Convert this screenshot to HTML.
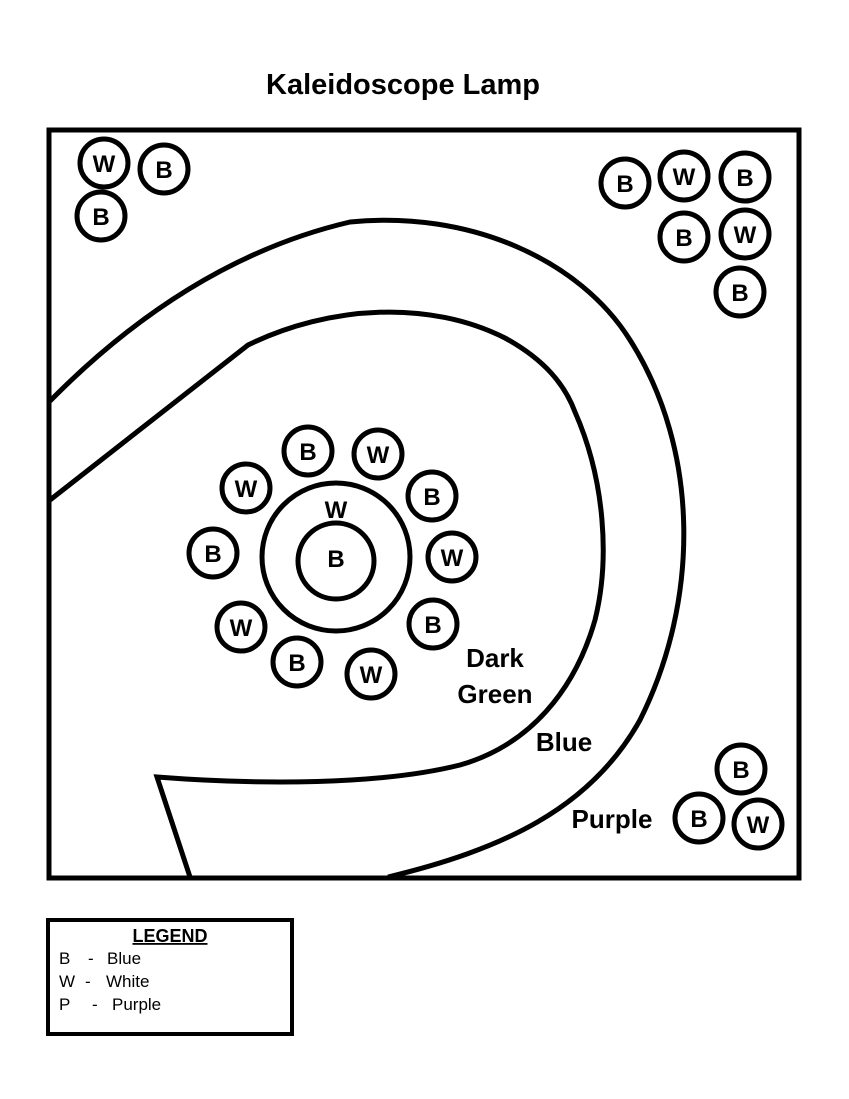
<!DOCTYPE html>
<html><head><style>
html,body{margin:0;padding:0;background:#fff;}
svg{display:block;}
text{font-family:"Liberation Sans",sans-serif;}
.c{fill:#fff;stroke:#000;stroke-width:5;}
.l{font-weight:bold;font-size:24px;text-anchor:middle;}
.lab{font-weight:bold;font-size:26px;text-anchor:middle;}
</style></head><body>
<svg width="849" height="1099" viewBox="0 0 849 1099" xmlns="http://www.w3.org/2000/svg">
<text x="403" y="94" font-size="29" font-weight="bold" text-anchor="middle">Kaleidoscope Lamp</text>
<rect x="49" y="130" width="750" height="748" fill="none" stroke="#000" stroke-width="5"/>
<path d="M50,401 C130,320 230,250 350,222 C470,210 580,260 630,340 C700,450 700,600 640,720 C590,810 500,850 388,877" fill="none" stroke="#000" stroke-width="5"/>
<path d="M50,500 L248,345 C330,305 430,300 505,338 C545,360 565,385 575,412 C605,480 610,560 595,620 C575,690 530,745 460,765 C380,785 260,785 157,777 L190,877" fill="none" stroke="#000" stroke-width="5"/>
<circle class="c" cx="336" cy="557" r="74"/>
<circle class="c" cx="336" cy="561" r="38"/>
<text class="l" x="336" y="518">W</text>
<text class="l" x="336" y="567">B</text>
<g>
<circle class="c" cx="104" cy="163" r="24"/><text class="l" x="104" y="172">W</text>
<circle class="c" cx="164" cy="169" r="24"/><text class="l" x="164" y="178">B</text>
<circle class="c" cx="101" cy="216" r="24"/><text class="l" x="101" y="225">B</text>

<circle class="c" cx="625" cy="183" r="24"/><text class="l" x="625" y="192">B</text>
<circle class="c" cx="684" cy="176" r="24"/><text class="l" x="684" y="185">W</text>
<circle class="c" cx="745" cy="177" r="24"/><text class="l" x="745" y="186">B</text>
<circle class="c" cx="684" cy="237" r="24"/><text class="l" x="684" y="246">B</text>
<circle class="c" cx="745" cy="234" r="24"/><text class="l" x="745" y="243">W</text>
<circle class="c" cx="740" cy="292" r="24"/><text class="l" x="740" y="301">B</text>

<circle class="c" cx="308" cy="451" r="24"/><text class="l" x="308" y="460">B</text>
<circle class="c" cx="378" cy="454" r="24"/><text class="l" x="378" y="463">W</text>
<circle class="c" cx="246" cy="488" r="24"/><text class="l" x="246" y="497">W</text>
<circle class="c" cx="432" cy="496" r="24"/><text class="l" x="432" y="505">B</text>
<circle class="c" cx="213" cy="553" r="24"/><text class="l" x="213" y="562">B</text>
<circle class="c" cx="452" cy="557" r="24"/><text class="l" x="452" y="566">W</text>
<circle class="c" cx="241" cy="627" r="24"/><text class="l" x="241" y="636">W</text>
<circle class="c" cx="433" cy="624" r="24"/><text class="l" x="433" y="633">B</text>
<circle class="c" cx="297" cy="662" r="24"/><text class="l" x="297" y="671">B</text>
<circle class="c" cx="371" cy="674" r="24"/><text class="l" x="371" y="683">W</text>

<circle class="c" cx="741" cy="769" r="24"/><text class="l" x="741" y="778">B</text>
<circle class="c" cx="699" cy="818" r="24"/><text class="l" x="699" y="827">B</text>
<circle class="c" cx="758" cy="824" r="24"/><text class="l" x="758" y="833">W</text>
</g>
<text class="lab" x="495" y="667">Dark</text>
<text class="lab" x="495" y="703">Green</text>
<text class="lab" x="564" y="751">Blue</text>
<text class="lab" x="612" y="828">Purple</text>
<rect x="48" y="920" width="244" height="114" fill="none" stroke="#000" stroke-width="4"/>
<text x="170" y="942" font-size="18" font-weight="bold" text-anchor="middle" text-decoration="underline">LEGEND</text>
<text x="59" y="964" font-size="17">B</text><text x="88" y="964" font-size="17">-</text><text x="107" y="964" font-size="17">Blue</text>
<text x="59" y="987" font-size="17">W</text><text x="85" y="987" font-size="17">-</text><text x="106" y="987" font-size="17">White</text>
<text x="59" y="1010" font-size="17">P</text><text x="92" y="1010" font-size="17">-</text><text x="112" y="1010" font-size="17">Purple</text>
</svg>
</body></html>
